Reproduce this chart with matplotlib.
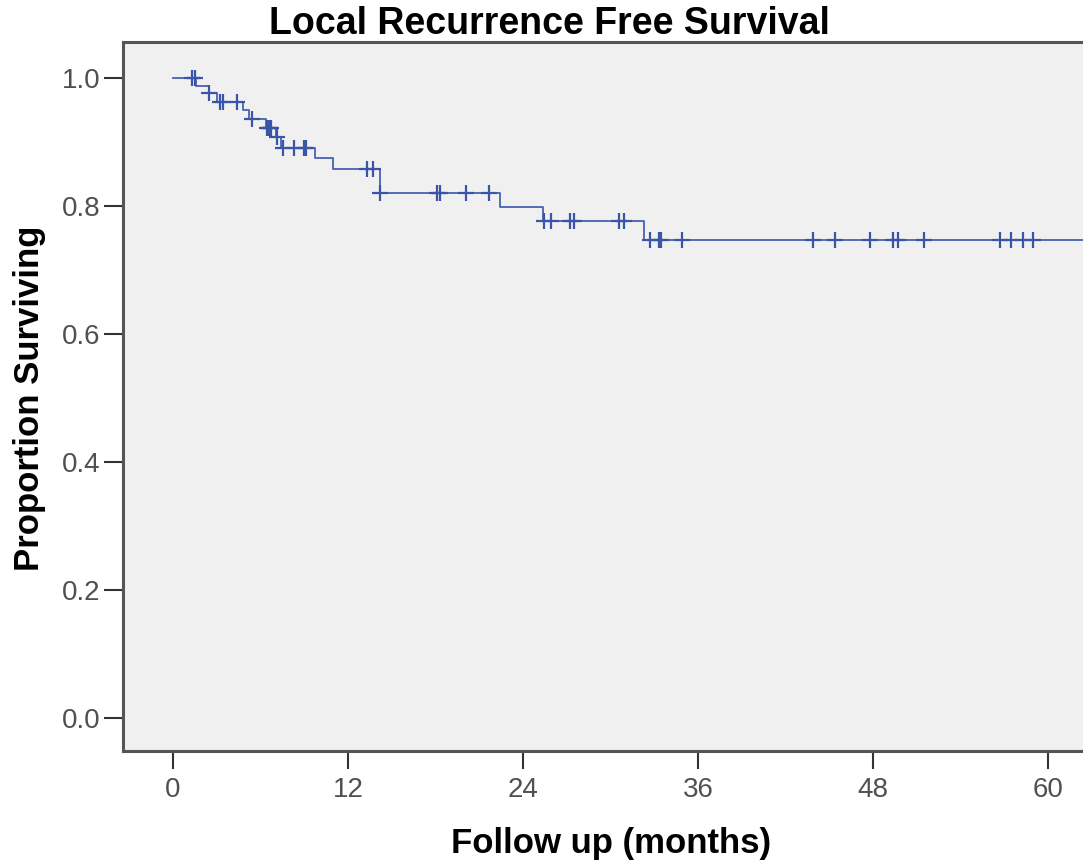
import matplotlib.pyplot as plt
import numpy as np

# Kaplan-Meier steps
event_times = [0, 1.6, 2.5, 3.0, 4.8, 5.2, 6.4, 7.05, 7.4, 9.75, 11.0, 14.2, 22.4, 25.35, 32.3]
survival = [1.0, 0.988, 0.976, 0.963, 0.950, 0.935, 0.921, 0.907, 0.890, 0.874, 0.858, 0.820, 0.798, 0.777, 0.747]
last_time = 65

# censored observations
censor_times = [1.3, 1.5, 2.5, 3.2, 3.45, 4.4, 5.4, 6.45, 6.55, 6.65, 6.75, 7.1, 7.55, 8.3,
                8.95, 9.1, 13.3, 13.7, 14.2, 18.1, 18.3, 20.1, 21.7, 25.45, 25.95, 27.2, 27.5,
                30.6, 30.9, 32.7, 33.3, 33.45, 34.9, 43.9, 45.4, 47.8, 49.4, 49.7, 51.5,
                56.7, 57.45, 58.3, 59.0]

x_ticks = [0, 12, 24, 36, 48, 60]
y_ticks = [0.0, 0.2, 0.4, 0.6, 0.8, 1.0]

fam = ['Liberation Sans', 'DejaVu Sans']
plt.rcParams['font.family'] = fam

fig = plt.figure(figsize=(10.83, 8.64), dpi=100)
ax = fig.add_axes([123 / 1083, 1 - 751 / 864, 960 / 1083, 709 / 864])
ax.set_facecolor('#F0F0F0')

line_col = '#4562B2'
t = event_times + [last_time]
s = survival + [survival[-1]]
ax.step(t, s, where='post', color=line_col, lw=1.3, zorder=3)

# survival level at each censor time
idx = np.searchsorted(event_times, censor_times, side='right') - 1
cens_s = np.array(survival)[idx]
ax.plot(censor_times, cens_s, linestyle='none', marker='+', ms=12, mew=1.6,
        color='#3A55A8', zorder=4)

ax.set_xlim(-3.43, 62.41)
ax.set_ylim(-0.052, 1.056)
ax.set_xticks(x_ticks)
ax.set_xticklabels([str(v) for v in x_ticks])
ax.set_yticks(y_ticks)
ax.set_yticklabels([f'{v:.1f}' for v in y_ticks])

for sp in ['top', 'left', 'bottom']:
    ax.spines[sp].set_linewidth(2.2)
    ax.spines[sp].set_color('#555555')
ax.spines['right'].set_visible(False)

ax.tick_params(axis='y', length=14, width=1.5, color='#333333', labelsize=20,
               labelcolor='#505050', pad=2)
ax.tick_params(axis='x', length=13, width=1.5, color='#333333', labelsize=20,
               labelcolor='#505050', pad=6)

fig.text(30 / 1083, 1 - 398 / 864, 'Proportion Surviving', rotation=90, ha='center', va='center',
         fontsize=25, fontweight='bold')
fig.text(611 / 1083, 1 - 843 / 864, 'Follow up (months)', ha='center', va='center',
         fontsize=25, fontweight='bold')
fig.text(549 / 1083, 1 - 24 / 864, 'Local Recurrence Free Survival', ha='center', va='center',
         fontsize=27, fontweight='bold')

fig.savefig('out.png', dpi=100, facecolor='white')
